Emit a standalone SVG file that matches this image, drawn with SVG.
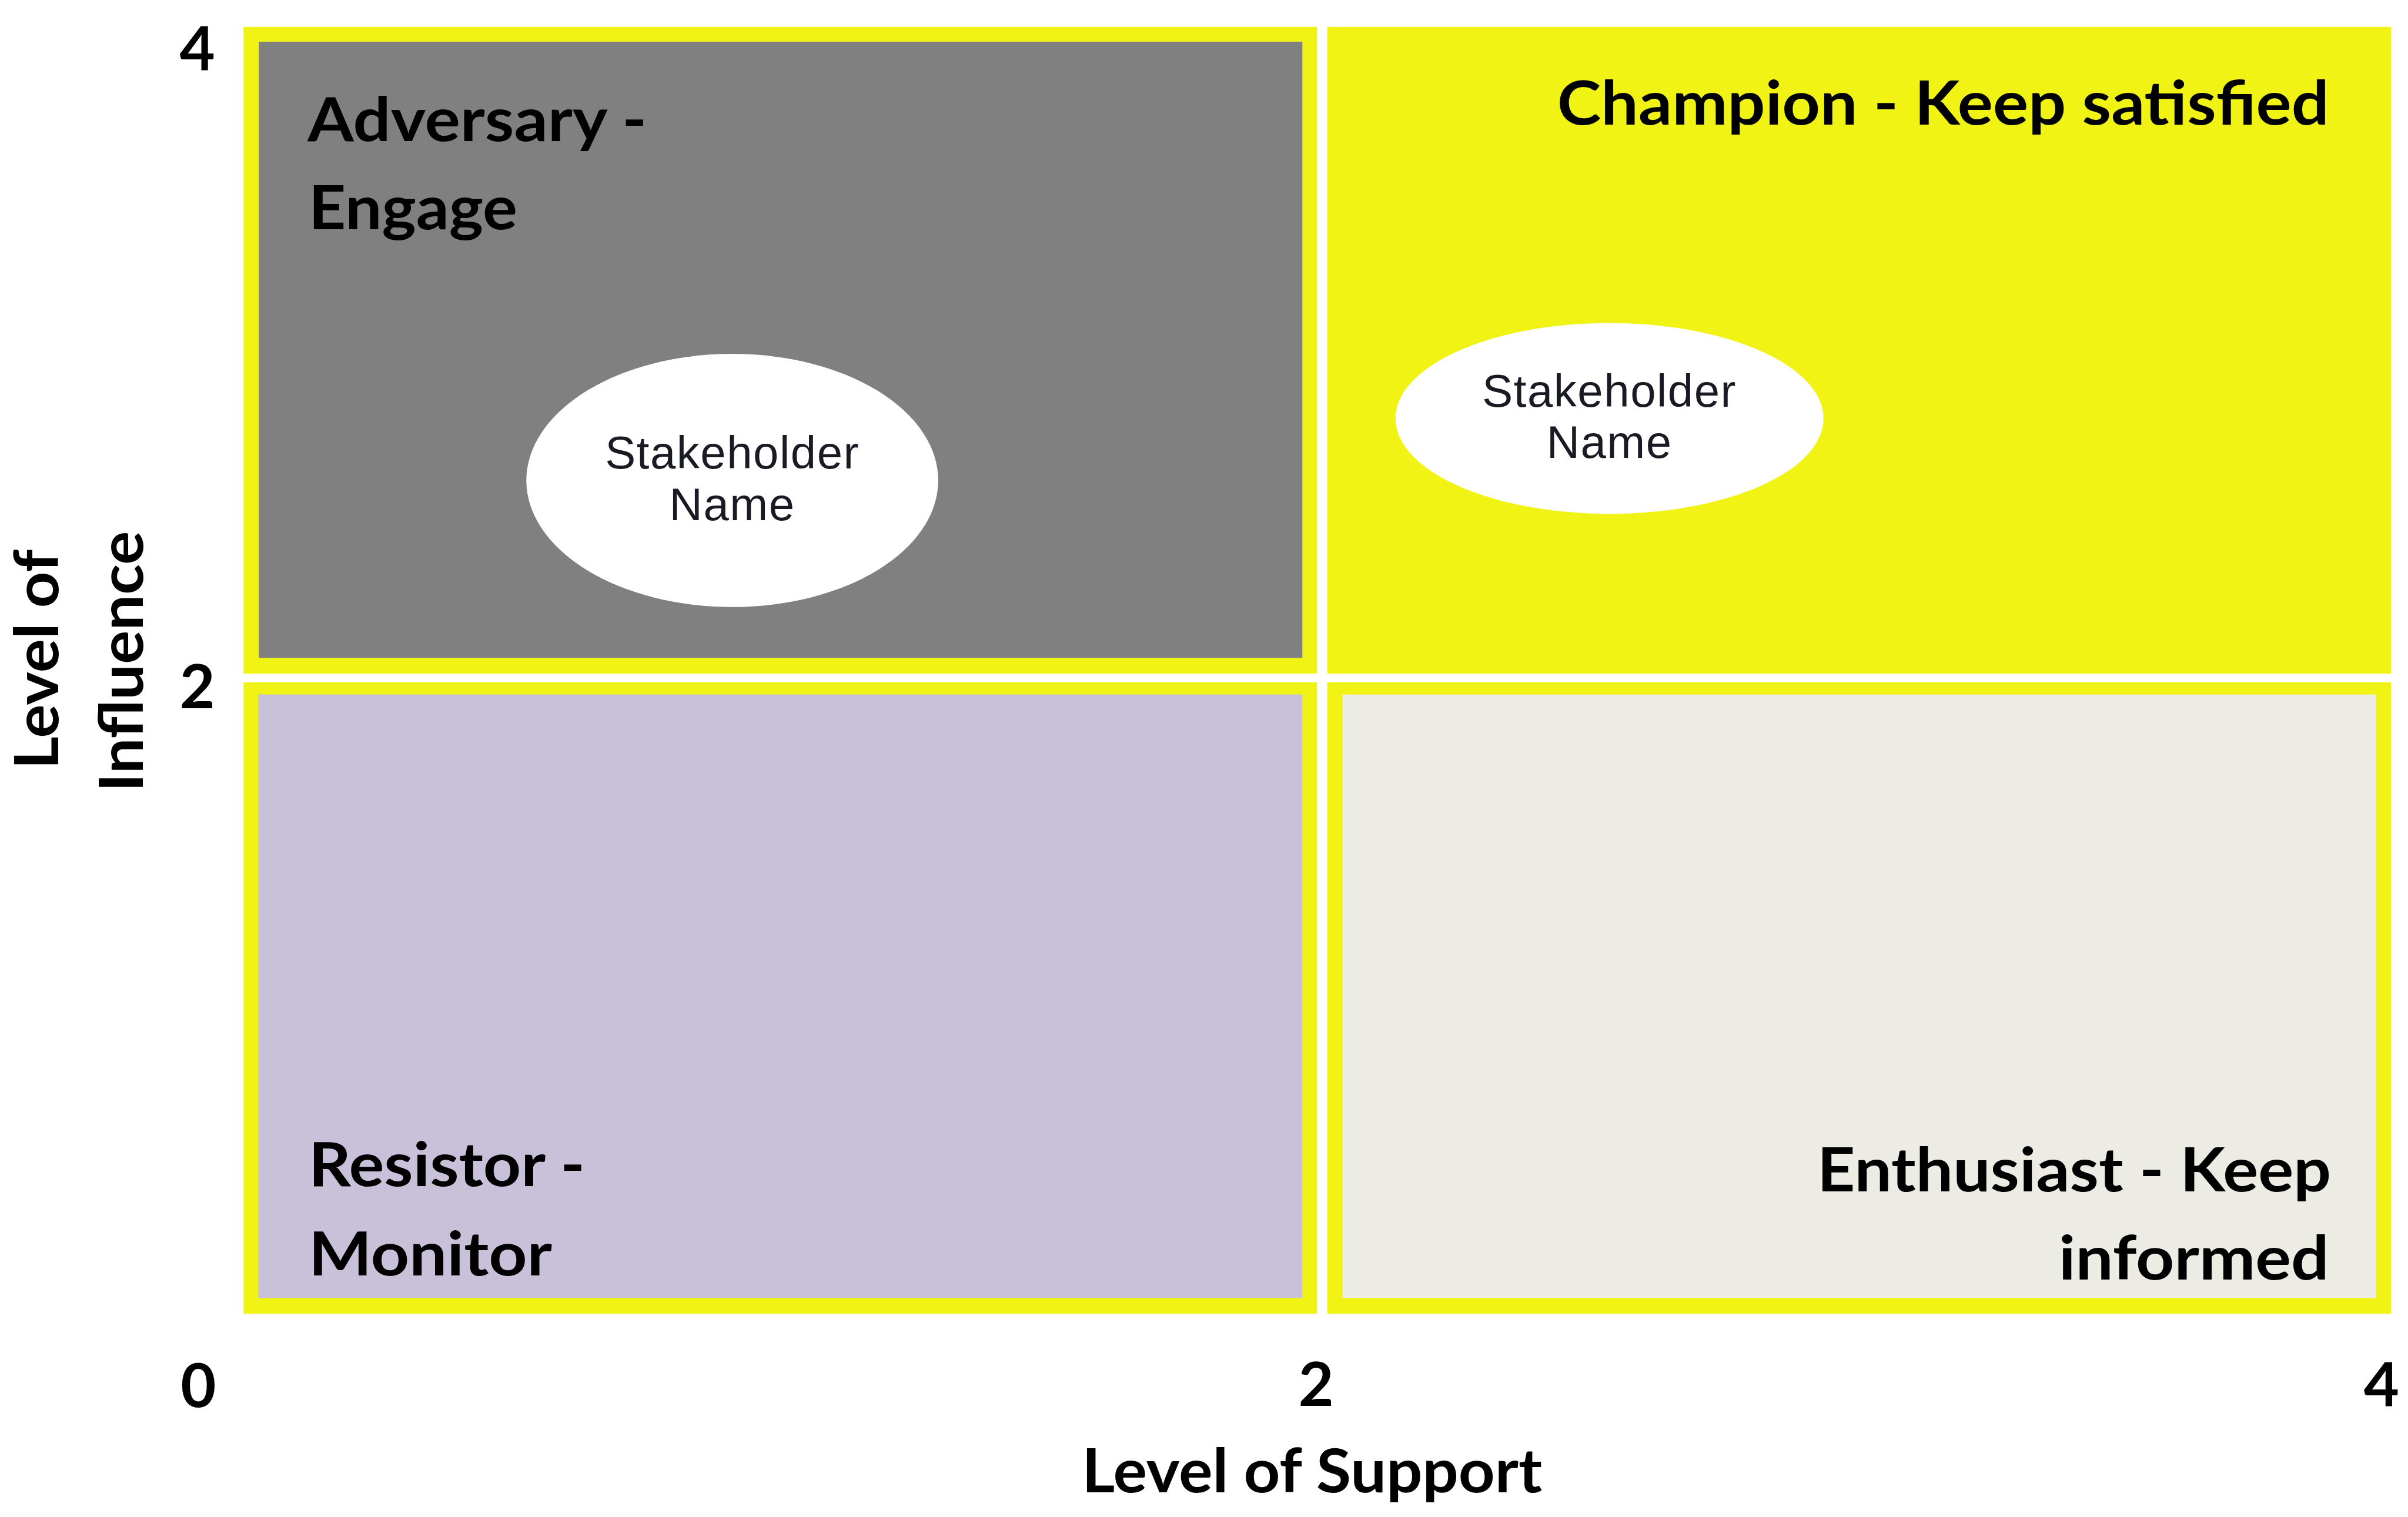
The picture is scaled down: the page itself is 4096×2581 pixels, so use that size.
<svg xmlns="http://www.w3.org/2000/svg" width="4096" height="2581" viewBox="0 0 4096 2581">
  <style>
    .yel { fill: #F0F314; }
    .lbl { font-family: Lato, "Liberation Sans", Arial, sans-serif; font-weight: 700; font-size: 104px; fill: #000000; }
    .ax { font-family: Lato, "Liberation Sans", Arial, sans-serif; font-weight: 700; font-size: 104px; fill: #000000; text-anchor: middle; }
    .sh { font-family: "Liberation Sans", Arial, sans-serif; font-weight: 400; font-size: 78px; fill: #1A1A24; text-anchor: middle; letter-spacing: 1.5px; }
    .end { text-anchor: end; }
  </style>
  <rect x="0" y="0" width="4096" height="2581" fill="#FFFFFF"/>

  <g id="quadrant-adversary">
    <rect class="yel" x="414.3" y="45.8" width="1826" height="1100.3"/>
    <rect x="440.3" y="70.9" width="1775" height="1048.4" fill="#808080"/>
    <text class="lbl" x="523.3" y="239.6" textLength="577" lengthAdjust="spacingAndGlyphs">Adversary -</text>
    <text class="lbl" x="525" y="390.1" textLength="355" lengthAdjust="spacingAndGlyphs">Engage</text>
  </g>

  <g id="quadrant-champion">
    <rect class="yel" x="2257.7" y="45.8" width="1809.6" height="1100.3"/>
    <text class="lbl end" x="3961.7" y="212" textLength="1313" lengthAdjust="spacingAndGlyphs">Champion - Keep satisfied</text>
  </g>

  <g id="quadrant-resistor">
    <rect class="yel" x="414.3" y="1160.8" width="1826" height="1074.3"/>
    <rect x="439.4" y="1181.6" width="1775.8" height="1026.8" fill="#C9C1DA"/>
    <text class="lbl" x="525" y="2018" textLength="470" lengthAdjust="spacingAndGlyphs">Resistor -</text>
    <text class="lbl" x="525" y="2170" textLength="414" lengthAdjust="spacingAndGlyphs">Monitor</text>
  </g>

  <g id="quadrant-enthusiast">
    <rect class="yel" x="2257.7" y="1160.8" width="1809.6" height="1074.3"/>
    <rect x="2283.6" y="1181.6" width="1758.5" height="1026.8" fill="#ECEBE4"/>
    <text class="lbl end" x="3965" y="2026.7" textLength="874" lengthAdjust="spacingAndGlyphs">Enthusiast - Keep</text>
    <text class="lbl end" x="3961.7" y="2177.2" textLength="460" lengthAdjust="spacingAndGlyphs">informed</text>
  </g>

  <g id="stakeholder-1">
    <ellipse cx="1245.6" cy="817.4" rx="350.3" ry="215.4" fill="#FFFFFF"/>
    <text class="sh" x="1245.6" y="796.7">Stakeholder</text>
    <text class="sh" x="1245.6" y="884.9">Name</text>
  </g>

  <g id="stakeholder-2">
    <ellipse cx="2737.7" cy="711.9" rx="364" ry="162.3" fill="#FFFFFF"/>
    <text class="sh" x="2737.7" y="692">Stakeholder</text>
    <text class="sh" x="2737.7" y="778.5">Name</text>
  </g>

  <g id="axis-y">
    <text class="ax" x="335.6" y="118.5">4</text>
    <text class="ax" x="335.6" y="1205">2</text>
    <text class="ax" transform="translate(98.6,1122) rotate(-90)" x="0" y="0" textLength="374" lengthAdjust="spacingAndGlyphs">Level of</text>
    <text class="ax" transform="translate(243,1125.4) rotate(-90)" x="0" y="0" textLength="444" lengthAdjust="spacingAndGlyphs">Influence</text>
  </g>

  <g id="axis-x">
    <text class="ax" x="337.4" y="2394">0</text>
    <text class="ax" x="2238.6" y="2392">2</text>
    <text class="ax" x="4050.8" y="2392">4</text>
    <text class="ax" x="2231.7" y="2538.8" textLength="783" lengthAdjust="spacingAndGlyphs">Level of Support</text>
  </g>

  <g id="connectors"/>
</svg>
